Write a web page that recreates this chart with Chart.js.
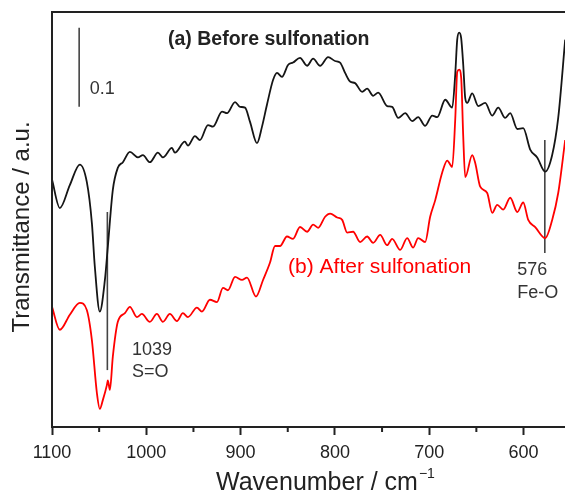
<!DOCTYPE html>
<html>
<head>
<meta charset="utf-8">
<script src="https://cdn.jsdelivr.net/npm/chart.js@4.4.1/dist/chart.umd.min.js"></script>
<style>
html,body{margin:0;padding:0;background:#fff}
#wrap{width:565px;height:490px;position:relative}
</style>
</head>
<body>
<div id="wrap"><canvas id="c"></canvas></div>
<script>
// (a) before sulfonation
const waveA = [1100,1091.7,1081.1,1070.5,1063.1,1057.7,1054.6,1049.3,1043.9,1040.8,1035.5,1030.2,1024.8,1017.4,1008.9,1003.6,996.2,987.7,982.4,972.8,969.7,959.1,955.9,948.4,943.1,934.6,929.3,919.7,914.4,905.9,900.6,895.3,890,882.6,877.3,872,865.6,861.4,856.1,849.7,844.4,837,829.5,823.1,815.7,807.2,799.8,794.5,789.2,783.9,778.6,771.1,765.8,759.4,754.1,744.6,739.3,732.9,725.5,718,711.7,704.3,696.8,691.5,683,675.6,672.4,670.3,668.2,666.1,663.9,661.8,659.7,654.4,648,640.6,633.2,626.8,619.4,614.1,606.6,600.3,592.9,585.5,577,569.6,563.2,555.8];
const transA = [0.313,0.277,0.306,0.332,0.310,0.258,0.203,0.146,0.186,0.228,0.300,0.328,0.335,0.348,0.341,0.344,0.335,0.347,0.341,0.353,0.347,0.361,0.356,0.368,0.363,0.382,0.380,0.399,0.397,0.411,0.405,0.404,0.386,0.359,0.380,0.408,0.439,0.448,0.443,0.458,0.461,0.467,0.457,0.466,0.457,0.468,0.463,0.461,0.448,0.437,0.435,0.424,0.428,0.419,0.423,0.406,0.405,0.391,0.397,0.387,0.392,0.381,0.394,0.392,0.414,0.404,0.446,0.490,0.499,0.492,0.458,0.416,0.410,0.422,0.406,0.410,0.394,0.404,0.391,0.397,0.377,0.378,0.351,0.341,0.323,0.344,0.391,0.490];

// (b) after sulfonation
const waveB = [1100,1091.7,1081.1,1070.5,1063.1,1057.7,1052.4,1049.3,1046.1,1041.8,1040.8,1038.6,1035.5,1030.2,1022.7,1017.4,1010,1004.7,996.2,988.8,982.4,975,967.5,961.2,955.9,946.3,941,932.5,925.1,918.7,913.4,905.9,898.5,893.2,883.7,876.2,868.8,863.5,858.2,850.8,844.4,837,829.5,823.1,817.8,810.4,805.1,797.6,792.3,787,780.7,773.2,765.8,759.4,752,744.6,739.3,730.8,723.4,717,711.7,704.3,699,693.6,686.2,680.9,675.6,672.4,670.3,668.2,666.1,663.9,661.8,654.4,651.2,645.9,638.5,633.2,627.9,621.5,614.1,606.6,600.3,595,587.6,577,569.6,563.2,555.8];
const transB = [0.152,0.123,0.142,0.157,0.148,0.110,0.043,0.023,0.034,0.053,0.059,0.047,0.089,0.133,0.144,0.152,0.139,0.143,0.133,0.143,0.133,0.143,0.134,0.144,0.139,0.151,0.146,0.161,0.158,0.176,0.173,0.190,0.186,0.189,0.165,0.186,0.208,0.229,0.229,0.241,0.238,0.253,0.247,0.256,0.252,0.266,0.270,0.265,0.262,0.246,0.247,0.234,0.241,0.233,0.243,0.230,0.238,0.224,0.239,0.227,0.239,0.234,0.266,0.287,0.322,0.337,0.329,0.389,0.449,0.452,0.442,0.367,0.316,0.344,0.334,0.304,0.296,0.271,0.281,0.275,0.290,0.272,0.284,0.262,0.253,0.239,0.262,0.296,0.363];

// scale bar and peak markers: [wavenumber, from, to]
const scaleBar = [1071.2, 0.405, 0.505];
const mark1039 = [1041.3, 0.072, 0.272];
const mark576  = [577.4, 0.220, 0.363];

const majorTicks = [1100,1000,900,800,700,600];
const minorTicks = [1050,950,850,750,650];

const FONT = "'Liberation Sans', Arial, sans-serif";

const pts = (xs,ys) => xs.map((x,i)=>({x:x,y:ys[i]}));
const vline = m => [{x:m[0],y:m[1]},{x:m[0],y:m[2]}];

function curve(label,data,color){
    return {label:label,data:data,borderColor:color,borderWidth:1.8,
            pointRadius:0,cubicInterpolationMode:'monotone',fill:false};
}
function marker(data){
    return {data:data,borderColor:'#444',borderWidth:1.6,pointRadius:0,tension:0,fill:false};
}

const deco = {
    id:'deco',
    afterDatasetsDraw(ch){
        const c=ch.ctx, a=ch.chartArea, x=ch.scales.x, y=ch.scales.y;
        c.save();
        // frame: left + top
        c.strokeStyle='#222'; c.lineWidth=2;
        c.beginPath();
        c.moveTo(a.left,a.bottom); c.lineTo(a.left,a.top); c.lineTo(a.right,a.top);
        // minor ticks
        minorTicks.forEach(v=>{
            const px=x.getPixelForValue(v);
            c.moveTo(px,a.bottom); c.lineTo(px,a.bottom+5);
        });
        c.stroke();

        const txt=(s,w,v,font,color)=>{
            c.font=font; c.fillStyle=color;
            c.textAlign='left'; c.textBaseline='middle';
            c.fillText(s,x.getPixelForValue(w),y.getPixelForValue(v));
        };
        txt('(a) Before sulfonation',977,0.490,'bold 19.5px '+FONT,'#222');
        txt('(b) After sulfonation',849.7,0.2025,'21px '+FONT,'#f00');
        txt('0.1',1059.9,0.427,'18px '+FONT,'#333');
        txt('1039',1015.2,0.0975,'18px '+FONT,'#333');
        txt('S=O',1015.2,0.0696,'18px '+FONT,'#333');
        txt('576',606.6,0.199,'18px '+FONT,'#333');
        txt('Fe-O',606.6,0.170,'18px '+FONT,'#333');

        // axis titles
        c.fillStyle='#222'; c.textBaseline='alphabetic'; c.textAlign='left';
        c.font='25px '+FONT;
        const t='Wavenumber / cm', tx=216;
        c.fillText(t,tx,490);
        const tw=c.measureText(t).width;
        c.font='14px '+FONT;
        c.fillText('\u22121',tx+tw+1,478);

        c.translate(22,227); c.rotate(-Math.PI/2);
        c.font='24px '+FONT; c.textAlign='center'; c.textBaseline='middle';
        c.fillText('Transmittance / a.u.',0,0);
        c.restore();
    }
};

new Chart(document.getElementById('c'),{
    type:'line',
    data:{datasets:[
        curve('(a) Before sulfonation',pts(waveA,transA),'#151515'),
        curve('(b) After sulfonation',pts(waveB,transB),'#ff0000'),
        marker(vline(scaleBar)),
        marker(vline(mark1039)),
        marker(vline(mark576))
    ]},
    options:{
        responsive:true,
        maintainAspectRatio:false,
        animation:false,
        layout:{padding:{left:52,top:12,right:0,bottom:0}},
        plugins:{legend:{display:false},tooltip:{enabled:false}},
        scales:{
            x:{
                type:'linear',reverse:true,min:556,max:1100,
                afterBuildTicks:s=>{ s.ticks=majorTicks.map(v=>({value:v})); },
                afterFit:s=>{ s.height=63; },
                grid:{drawOnChartArea:false,tickLength:8,tickWidth:2,tickColor:'#222'},
                border:{color:'#222',width:2},
                ticks:{color:'#222',font:{family:FONT,size:18},padding:7,maxRotation:0,autoSkip:false,
                       callback:v=>String(v)}
            },
            y:{display:false,min:0,max:0.525}
        }
    },
    plugins:[deco]
});
</script>
</body>
</html>
